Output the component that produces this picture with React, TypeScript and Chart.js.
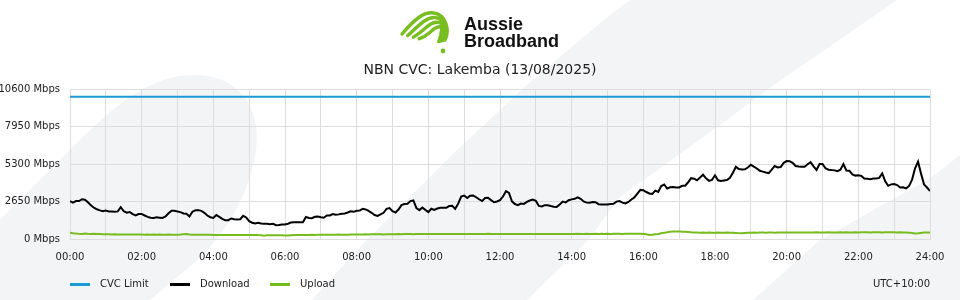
import React, { useEffect, useRef } from 'react';
import { Chart, registerables } from 'chart.js';

Chart.register(...registerables);

const TITLE = 'NBN CVC: Lakemba (13/08/2025)';
const BRAND_LINE_1 = 'Aussie';
const BRAND_LINE_2 = 'Broadband';
const TIMEZONE = 'UTC+10:00';
const HOUR_LABELS = ['00:00', '02:00', '04:00', '06:00', '08:00', '10:00', '12:00', '14:00', '16:00', '18:00', '20:00', '22:00', '24:00'];
const Y_MAX = 10600;
const Y_STEP = 2650;
const STEP_MINUTES = 5;
const SERIES_NAMES = ['CVC Limit', 'Download', 'Upload'];
const SERIES_COLORS = ['#1b9ad6', '#000000', '#77bc1f'];

const CVC_TIMES = [0, 24];
const CVC_LIMIT = [10050, 10050];

const DOWNLOAD = [
  2680, 2570, 2680, 2680, 2810, 2770, 2590, 2380, 2210, 2100, 2020, 1970,
  2010, 1950, 1940, 1930, 1950, 2250, 1960, 1860, 1910, 1760, 1670, 1760,
  1770, 1660, 1560, 1500, 1490, 1530, 1510, 1490, 1600, 1820, 2000, 1990,
  1940, 1900, 1800, 1780, 1590, 1930, 2030, 2040, 1990, 1850, 1660, 1540,
  1490, 1690, 1560, 1430, 1320, 1330, 1450, 1400, 1380, 1400, 1640, 1520,
  1260, 1150, 1100, 1140, 1100, 1070, 1070, 1040, 1070, 970, 990, 1030,
  1020, 1080, 1160, 1180, 1180, 1180, 1180, 1550, 1480, 1470, 1570, 1590,
  1540, 1500, 1660, 1660, 1760, 1720, 1740, 1790, 1800, 1870, 1960, 1920,
  2000, 2010, 2130, 2090, 1980, 1850, 1690, 1630, 1740, 1850, 2130, 2180,
  1960, 1870, 2080, 2390, 2470, 2490, 2680, 2720, 2180, 2040, 2220, 2060,
  1900, 2140, 2060, 2150, 2200, 2200, 2200, 2330, 2350, 2130, 2500, 3000,
  3070, 2900, 3060, 3080, 2950, 2810, 2680, 2900, 2920, 2750, 2600, 2650,
  2750, 3000, 3380, 3250, 2660, 2470, 2390, 2500, 2480, 2620, 2720, 2780,
  2700, 2340, 2300, 2390, 2390, 2330, 2280, 2270, 2440, 2640, 2590, 2740,
  2800, 2840, 2950, 2840, 2650, 2570, 2560, 2620, 2600, 2460, 2440, 2440,
  2440, 2480, 2490, 2640, 2680, 2570, 2510, 2620, 2790, 2940, 3210, 3470,
  3450, 3320, 3220, 3190, 3420, 3330, 3740, 3850, 3570, 3650, 3670, 3640,
  3640, 3760, 3770, 4010, 4300, 4260, 4150, 4340, 4540, 4290, 4110, 4180,
  4500, 4150, 4100, 4140, 4170, 4320, 4680, 5100, 4950, 4910, 4920, 5050,
  5240, 5120, 4980, 4820, 4760, 4700, 4660, 4900, 5160, 5060, 5090, 5380,
  5510, 5500, 5380, 5160, 5120, 5110, 5110, 5280, 5430, 5130, 4880, 5300,
  5300, 5000, 4900, 4870, 4850, 4800, 4900, 5300, 4840, 4820, 4570, 4480,
  4510, 4460, 4280, 4260, 4220, 4270, 4280, 4320, 4640, 4080, 3760, 3860,
  3880, 3810, 3640, 3660, 3580, 3750, 4200, 5000, 5470, 4620, 3860, 3640,
  3390,
];

const UPLOAD = [
  450, 410, 385, 370, 360, 390, 370, 355, 365, 345, 350, 340,
  335, 330, 320, 330, 320, 315, 325, 315, 310, 320, 310, 315,
  310, 305, 315, 305, 310, 300, 310, 305, 300, 310, 305, 300,
  300, 310, 330, 350, 320, 305, 300, 300, 295, 305, 300, 295,
  290, 285, 285, 290, 280, 285, 280, 285, 280, 285, 290, 285,
  280, 285, 290, 275, 270, 225, 260, 270, 265, 270, 265, 270,
  245, 250, 265, 275, 280, 285, 280, 290, 285, 295, 290, 300,
  300, 305, 300, 295, 305, 300, 310, 300, 305, 300, 310, 315,
  320, 310, 325, 330, 320, 330, 340, 330, 335, 325, 340, 335,
  340, 335, 345, 340, 350, 345, 350, 340, 355, 345, 350, 345,
  355, 350, 345, 355, 350, 345, 355, 360, 350, 355, 360, 355,
  350, 360, 355, 350, 360, 355, 350, 360, 365, 355, 360, 355,
  360, 355, 360, 350, 355, 360, 355, 350, 355, 360, 355, 350,
  355, 350, 360, 355, 350, 355, 360, 355, 350, 360, 355, 360,
  355, 360, 365, 355, 360, 365, 360, 355, 365, 360, 365, 360,
  365, 360, 365, 370, 365, 360, 365, 370, 365, 370, 365, 370,
  360, 330, 290, 300, 330, 360, 400, 440, 470, 510, 525, 530,
  525, 520, 510, 490, 470, 460, 455, 450, 455, 450, 455, 450,
  450, 455, 445, 450, 455, 445, 440, 430, 415, 400, 430, 445,
  450, 455, 450, 460, 455, 450, 455, 460, 450, 455, 460, 455,
  460, 455, 465, 460, 455, 460, 465, 460, 455, 460, 470, 465,
  460, 465, 470, 465, 460, 465, 470, 465, 470, 465, 460, 470,
  465, 470, 475, 470, 465, 470, 475, 470, 465, 470, 475, 470,
  470, 465, 470, 460, 455, 450, 420, 390, 400, 430, 455, 460,
  455,
];

const FONT = 'DejaVu Sans';
const BG_GREY = '#f3f4f6';
const LOGO_GREEN = '#78be21';

const toPoints = (values: number[]) => values.map((y, i) => ({ x: (i * STEP_MINUTES) / 60, y }));

const backgroundPlugin = {
  id: 'abbBackground',
  beforeDraw(chart: any) {
    const ctx = chart.ctx as CanvasRenderingContext2D;
    const w = chart.width;
    const h = chart.height;
    ctx.save();
    ctx.fillStyle = '#ffffff';
    ctx.fillRect(0, 0, w, h);
    ctx.fillStyle = BG_GREY;
    // left rounded blob
    ctx.beginPath();
    ctx.moveTo(0, 220);
    ctx.lineTo(75, 145);
    ctx.bezierCurveTo(115, 105, 150, 75, 195, 75);
    ctx.bezierCurveTo(240, 75, 262, 110, 256, 150);
    ctx.bezierCurveTo(250, 195, 225, 235, 195, 262);
    ctx.lineTo(150, 300);
    ctx.lineTo(0, 300);
    ctx.closePath();
    ctx.fill();
    // middle diagonal band
    ctx.beginPath();
    ctx.moveTo(630, 0);
    ctx.lineTo(600, 23);
    ctx.lineTo(527, 85);
    ctx.lineTo(457, 150);
    ctx.lineTo(357, 250);
    ctx.lineTo(312, 300);
    ctx.lineTo(527, 300);
    ctx.lineTo(588, 240);
    ctx.lineTo(620, 197);
    ctx.lineTo(727, 120);
    ctx.lineTo(768, 89);
    ctx.lineTo(897, 0);
    ctx.closePath();
    ctx.fill();
    // right band
    ctx.beginPath();
    ctx.moveTo(753, 300);
    ctx.lineTo(820, 240);
    ctx.lineTo(931, 178);
    ctx.lineTo(960, 155);
    ctx.lineTo(960, 300);
    ctx.closePath();
    ctx.fill();

    // logo swirl: diagonal stripes bending down on the right
    ctx.strokeStyle = LOGO_GREEN;
    ctx.fillStyle = LOGO_GREEN;
    ctx.lineWidth = 3.4;
    ctx.lineCap = 'round';
    ctx.lineJoin = 'round';
    for (let i = 0; i < 4; i++) {
      const d = i * 5.2;
      ctx.beginPath();
      ctx.moveTo(402 + d * 1.1, 34 + d * 0.3);
      ctx.bezierCurveTo(414 + d, 20 + d, 424 + d * 0.6, 11 + d, 434 + d * 0.3, 13 + d * 0.9);
      ctx.bezierCurveTo(446 - d * 0.2, 15 + d * 0.5, 450 - d * 0.5, 30 + d * 0.2, 445 - d * 0.4, 40 + d * 0.1);
      ctx.stroke();
    }
    ctx.beginPath();
    ctx.arc(443, 51, 2.4, 0, Math.PI * 2);
    ctx.fill();
    // logo text
    ctx.fillStyle = '#111111';
    ctx.font = 'bold 18px "Liberation Sans"';
    ctx.textAlign = 'left';
    ctx.textBaseline = 'alphabetic';
    ctx.fillText(BRAND_LINE_1, 464, 30);
    ctx.fillText(BRAND_LINE_2, 464, 47);
    // chart title, centred on the canvas
    ctx.fillStyle = '#222222';
    ctx.font = `14px "${FONT}"`;
    ctx.textAlign = 'center';
    ctx.textBaseline = 'middle';
    ctx.fillText(TITLE, w / 2, 70);
    ctx.restore();
  },
};

const legendPlugin = {
  id: 'abbLegend',
  afterDraw(chart: any) {
    const ctx = chart.ctx as CanvasRenderingContext2D;
    const y = 284.5;
    const left = chart.chartArea.left;
    ctx.save();
    ctx.font = `10px "${FONT}"`;
    ctx.textBaseline = 'middle';
    ctx.textAlign = 'left';
    SERIES_NAMES.forEach((name, i) => {
      const x = left + i * 100;
      ctx.fillStyle = SERIES_COLORS[i];
      ctx.fillRect(x, y - 1.5, 20, 3);
      ctx.fillStyle = '#222222';
      ctx.fillText(name, x + 30, y);
    });
    ctx.textAlign = 'right';
    ctx.fillText(TIMEZONE, chart.chartArea.right, y);
    ctx.restore();
  },
};

export default function App() {
  const canvasRef = useRef<HTMLCanvasElement | null>(null);

  useEffect(() => {
    document.body.style.margin = '0';
    const canvas = canvasRef.current;
    if (!canvas) return;
    const chart = new Chart(canvas, {
      type: 'line',
      data: {
        datasets: [
          {
            label: SERIES_NAMES[0],
            data: CVC_LIMIT.map((y, i) => ({ x: CVC_TIMES[i], y })),
            borderColor: SERIES_COLORS[0],
            backgroundColor: SERIES_COLORS[0],
            borderWidth: 2,
            pointRadius: 0,
          },
          {
            label: SERIES_NAMES[1],
            data: toPoints(DOWNLOAD),
            borderColor: SERIES_COLORS[1],
            backgroundColor: SERIES_COLORS[1],
            borderWidth: 2,
            pointRadius: 0,
          },
          {
            label: SERIES_NAMES[2],
            data: toPoints(UPLOAD),
            borderColor: SERIES_COLORS[2],
            backgroundColor: SERIES_COLORS[2],
            borderWidth: 2,
            pointRadius: 0,
          },
        ],
      },
      options: {
        animation: false,
        responsive: false,
        devicePixelRatio: 1,
        layout: { padding: { top: 89, right: 30, bottom: 35, left: 0 } },
        plugins: {
          legend: { display: false },
          tooltip: { enabled: false },
          title: { display: false },
        },
        scales: {
          x: {
            type: 'linear',
            min: 0,
            max: 24,
            afterFit: (scale: any) => {
              scale.height = 26;
            },
            grid: { color: '#dddddd', drawTicks: false },
            border: { color: '#dddddd' },
            ticks: {
              stepSize: 1,
              autoSkip: false,
              maxRotation: 0,
              padding: 12,
              color: '#222222',
              font: { family: FONT, size: 10 },
              callback: (v: any) => (Number(v) % 2 === 0 ? HOUR_LABELS[Number(v) / 2] : ''),
            },
          },
          y: {
            min: 0,
            max: Y_MAX,
            afterFit: (scale: any) => {
              scale.width = 70;
            },
            grid: { color: '#dddddd', drawTicks: false },
            border: { color: '#dddddd' },
            ticks: {
              stepSize: Y_STEP,
              padding: 10,
              color: '#222222',
              font: { family: FONT, size: 10 },
              callback: (v: any) => `${v} Mbps`,
            },
          },
        },
      },
      plugins: [backgroundPlugin, legendPlugin],
    });
    return () => chart.destroy();
  }, []);

  return (
    <div style={{ width: 960, height: 300 }}>
      <canvas ref={canvasRef} width={960} height={300} />
    </div>
  );
}
